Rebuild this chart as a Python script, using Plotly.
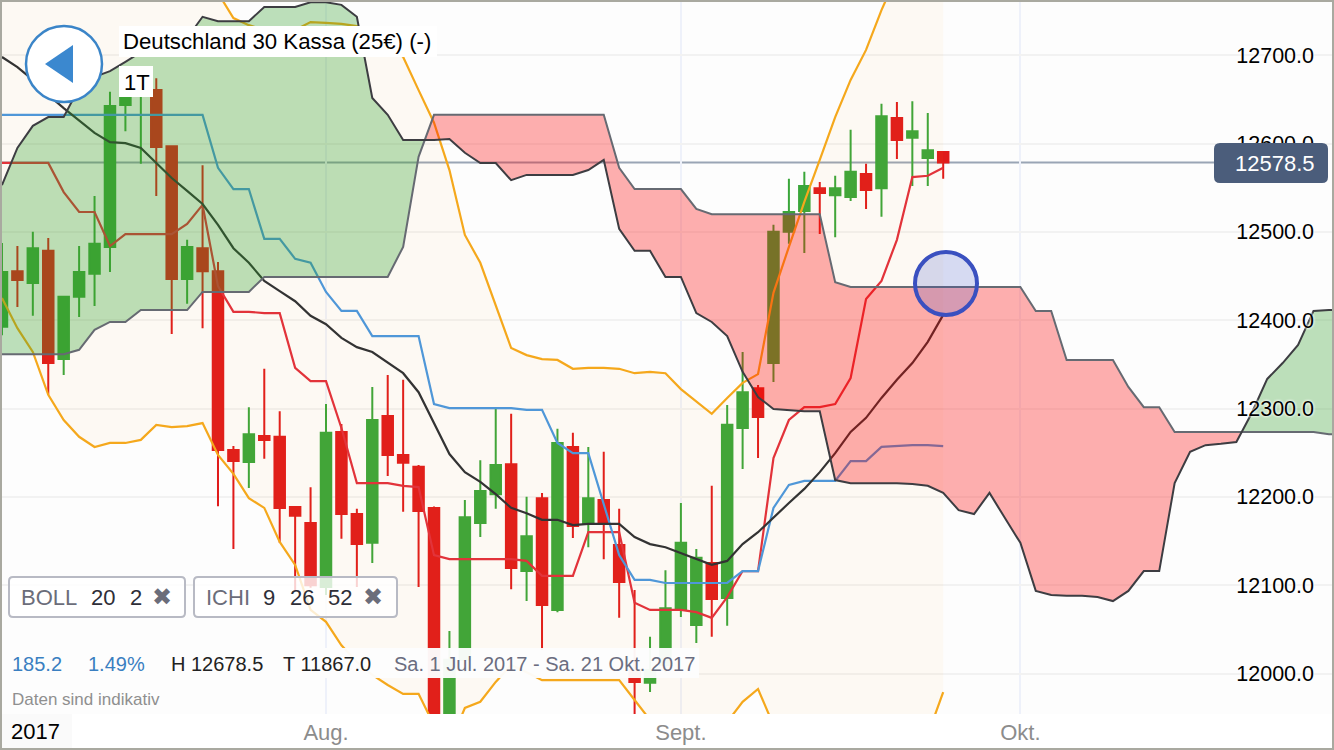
import plotly.graph_objects as go

# trading-day index: 0 = 1 Aug 2017, 23 = 1 Sep 2017, 45 = 2 Oct 2017
first_day = -21
tick_days = [0, 23, 45]
tick_names = ["Aug.", "Sept.", "Okt."]
price_ticks = [12000, 12100, 12200, 12300, 12400, 12500, 12600, 12700]
price_names = ["12000.0", "12100.0", "12200.0", "12300.0", "12400.0", "12500.0", "12600.0", "12700.0"]

opens = [12392.5, 12455.5, 12442, 12478.5, 12356, 12426.5, 12452.5, 12483, 12643.5, 12660.5, 12660.5,
         12597, 12446.5, 12481.5, 12455.5, 12253, 12239.5, 12269, 12268, 12188.5, 12170.5, 12098, 12273.5,
         12180.5, 12148, 12291.5, 12247.5, 12234, 12187.5, 11924.5, 12015.5, 12170.5, 12203, 12237, 12116,
         12198.5, 12072, 12256.5, 12169.5, 12196.5, 12145.5, 12004, 11989.5, 12009.5, 12072, 12055, 12125,
         12085.5, 12278, 12323, 12351.5, 12500, 12523.5, 12549.5, 12541.5, 12539.5, 12565.5, 12549.5,
         12629, 12606.5, 12583.5, 12590.5]
highs = [12487.5, 12484, 12500, 12493, 12427.5, 12484, 12540.5, 12658.5, 12670, 12678.5, 12674,
         12597.5, 12491, 12575.5, 12466, 12257.5, 12301.5, 12345, 12297, 12189, 12211, 12305, 12282.5,
         12186.5, 12324.5, 12338, 12332.5, 12236, 12189, 12048, 12196.5, 12241.5, 12300.5, 12294, 12200,
         12204.5, 12277, 12272.5, 12256.5, 12251, 12186.5, 12094.5, 12041.5, 12117, 12193, 12141, 12212.5,
         12304, 12364, 12326.5, 12508, 12560, 12568, 12556.5, 12563.5, 12615.5, 12577, 12645, 12647, 12648,
         12634.5, 12591.5]
lows = [12383, 12415, 12405, 12315.5, 12338, 12403.5, 12416, 12454.5, 12614, 12577, 12540.5,
        12384.5, 12418.5, 12391, 12189.5, 12141, 12210, 12243, 12148, 12094.5, 12097, 12089, 12152.5,
        12098, 12125, 12223.5, 12183, 12098, 11890, 11900, 12001.5, 12154.5, 12186.5, 12095.5, 12082,
        12026.5, 12069.5, 12153.5, 12143, 12129.5, 12063, 11867, 11979, 12001.5, 12064, 12034.5, 12041.5,
        12054, 12231.5, 12244, 12330, 12486.5, 12476, 12497.5, 12494, 12535, 12526, 12517, 12582.5, 12552,
        12552, 12560]
closes = [12454.5, 12445.5, 12481.5, 12351.5, 12426.5, 12454.5, 12486.5, 12642.5, 12660.5, 12674, 12596,
          12446.5, 12483, 12455.5, 12253, 12240.5, 12271, 12264.5, 12187.5, 12178.5, 12100, 12272.5, 12180.5,
          12146.5, 12287, 12247.5, 12238.5, 12184, 11947.5, 12015.5, 12177, 12206.5, 12236, 12119.5, 12155.5,
          12077.5, 12261, 12167, 12198.5, 12169.5, 12103.5, 11990.5, 12004, 12074, 12148, 12131, 12084.5,
          12281.5, 12318.5, 12290.5, 12500, 12522.5, 12552, 12544, 12549.5, 12568, 12547.5, 12631, 12604,
          12614, 12592.5, 12578.5]

tenkan = [12578, 12578, 12578, 12578, 12545, 12522.5, 12522.5, 12484, 12497.5, 12497.5, 12497.5, 12497.5,
          12509, 12530.5, 12438.5, 12409.5, 12409.5, 12408, 12408, 12346, 12331, 12331, 12278, 12215.5,
          12215.5, 12215.5, 12212.5, 12211, 12134, 12129.5, 12129.5, 12129.5, 12129.5, 12129.5, 12127.5,
          12110.5, 12110.5, 12110.5, 12160, 12160, 12160, 12080, 12072, 12072, 12072, 12069.5, 12063,
          12086.5, 12116, 12116, 12244, 12287, 12301.5, 12301.5, 12305, 12334.5, 12424, 12444.5, 12491,
          12562, 12563.5, 12572.5]
kijun = [12632.5] * 14 + [12572.5, 12548.5, 12548.5, 12492, 12492, 12469.5, 12465, 12432, 12410.5, 12410.5,
         12382, 12382, 12382, 12382, 12305, 12300.5, 12300.5, 12300.5, 12300.5, 12300.5, 12298.5, 12298.5,
         12261, 12249.5, 12249.5, 12193, 12134, 12106, 12106, 12102.5, 12102.5, 12102.5, 12102.5, 12102.5,
         12116, 12116, 12187.5, 12213.5, 12218, 12218, 12218, 12240.5, 12240.5, 12256.5, 12257.5, 12258.5,
         12258.5, 12257.5]
mean_line = [12698, 12686.5, 12672, 12655, 12640, 12625.5, 12612, 12601.5, 12600.5, 12595, 12578, 12561,
             12546.5, 12531.5, 12508, 12481.5, 12465, 12444.5, 12433, 12421.5, 12405, 12395.5, 12380, 12369.5,
             12364, 12352.5, 12340, 12318.5, 12283.5, 12248.5, 12228, 12217, 12203, 12187.5, 12181.5, 12174,
             12174, 12168, 12169.5, 12169.5, 12169.5, 12154.5, 12146.5, 12143, 12136.5, 12129.5, 12123,
             12127.5, 12146.5, 12160, 12177, 12193, 12209, 12228, 12249.5, 12273.5, 12289.5, 12312, 12332.5,
             12351.5, 12375.5, 12406]
boll_upper = [12808, 12808, 12808, 12813.5, 12808, 12808, 12808, 12813.5, 12819, 12830.5, 12836, 12830.5,
              12824.5, 12802, 12770.5, 12742, 12734, 12728.5, 12726.5, 12728.5, 12737.5, 12736.5, 12735.5,
              12733, 12723, 12711.5, 12698, 12660.5, 12623.5, 12570, 12496.5, 12465, 12417, 12368.5, 12360.5,
              12356, 12355, 12345, 12346, 12346, 12345, 12340, 12341.5, 12340, 12322, 12307.5, 12294, 12312,
              12329, 12339, 12431, 12483, 12534, 12581.5, 12630, 12672, 12706, 12751, 12790.5, 12824.5,
              12847.5, 12864.5]
boll_lower = [12425, 12391, 12364, 12315.5, 12287, 12268, 12256.5, 12261, 12261, 12264.5, 12281.5, 12279,
              12280, 12283.5, 12247.5, 12226, 12198.5, 12187.5, 12149, 12123, 12072, 12058.5, 12032, 12013,
              11998.5, 11987, 11977, 11977, 11941.5, 11919, 11961, 11968, 11990.5, 12009.5, 12001.5, 11992.5,
              11992.5, 11992.5, 11992.5, 11992.5, 11992.5, 11970, 11947.5, 11936, 11930.5, 11927, 11930.5,
              11945, 11968, 11982.5, 11941.5, 11896.5, 11868, 11845.5, 11840, 11845.5, 11857, 11868, 11891,
              11919, 11930.5, 11979]
span_a = [12553, 12595, 12620, 12630, 12630, 12663, 12675.5, 12682, 12692.5, 12703.5, 12708, 12712.5, 12719.5,
          12743.5, 12738.5, 12738.5, 12738.5, 12754.5, 12754.5, 12754.5, 12760, 12760, 12757, 12743.5, 12651.5,
          12632.5, 12604, 12604, 12604, 12605, 12589.5, 12578, 12578, 12558.5, 12564.5, 12564.5, 12564.5,
          12564.5, 12570, 12581.5, 12503.5, 12478.5, 12478.5, 12449, 12449, 12408, 12398, 12382, 12341.5,
          12313, 12299.5, 12298.5, 12297, 12297, 12219, 12215.5, 12215.5, 12215.5, 12215.5, 12214.5, 12212.5,
          12204.5, 12185, 12180.5, 12204.5, 12176, 12148, 12093.5, 12089, 12088, 12088, 12086.5, 12082,
          12093.5, 12116, 12116, 12215.5, 12251, 12258.5, 12260, 12262, 12295, 12333.5, 12351.5, 12372,
          12410.5, 12411.5, 12411.5]
span_b = [12361.5] * 5 + [12366.5, 12389, 12398, 12398] + [12411.5] * 4 + [12432] * 4 + [12449] * 9 + [
          12483, 12585] + [12632.5] * 12 + [12572.5, 12548.5, 12548.5, 12548.5, 12548.5, 12526] + [12520] * 8 + [
          12443] + [12437.5] * 12 + [12410.5, 12410.5, 12355, 12355, 12355, 12355, 12324.5, 12301.5, 12301.5] + [
          12273.5] * 10 + [12271, 12271]

candle_days = list(range(first_day, first_day + len(closes)))
cloud_days = list(range(first_day, first_day + len(span_a)))
last_price = closes[-1]

GREEN = "#3aa63a"
RED = "#e01b1b"
W, H, PLOT_H = 1334, 750, 714
px_per_day = 15.43
aug_px = 326
px_per_unit = 0.8833
top_price = 12762.5


def fx(px):
    return px / W


def fy(py):
    return 1 - py / PLOT_H


def cloud_segments():
    """Split the cloud wherever the two spans cross."""
    segs, cur = [], [(cloud_days[0], span_a[0], span_b[0])]
    for k in range(1, len(cloud_days)):
        d0, d1 = cloud_days[k - 1], cloud_days[k]
        a0, a1, b0, b1 = span_a[k - 1], span_a[k], span_b[k - 1], span_b[k]
        if (a0 - b0) * (a1 - b1) < 0:
            t = (b0 - a0) / ((a1 - a0) - (b1 - b0))
            cross = (d0 + t * (d1 - d0), a0 + t * (a1 - a0), a0 + t * (a1 - a0))
            cur.append(cross)
            segs.append(cur)
            cur = [cross]
        cur.append((d1, a1, b1))
    segs.append(cur)
    return segs


fig = go.Figure()

fig.add_trace(go.Candlestick(
    x=candle_days, open=opens, high=highs, low=lows, close=closes,
    increasing=dict(line=dict(color=GREEN, width=2), fillcolor=GREEN),
    decreasing=dict(line=dict(color=RED, width=2), fillcolor=RED),
    whiskerwidth=0, showlegend=False, hoverinfo="skip"))

fig.add_trace(go.Scatter(
    x=candle_days + candle_days[::-1], y=boll_upper + boll_lower[::-1],
    fill="toself", fillcolor="rgba(255,165,30,0.045)", mode="none",
    showlegend=False, hoverinfo="skip"))
for series in (boll_upper, boll_lower):
    fig.add_trace(go.Scatter(x=candle_days, y=series, mode="lines",
                             line=dict(color="#f5a81c", width=2.2), showlegend=False, hoverinfo="skip"))
fig.add_trace(go.Scatter(x=candle_days, y=tenkan, mode="lines",
                         line=dict(color="#e2333a", width=2.2), showlegend=False, hoverinfo="skip"))
fig.add_trace(go.Scatter(x=candle_days, y=kijun, mode="lines",
                         line=dict(color="#4f97d8", width=2.2), showlegend=False, hoverinfo="skip"))
fig.add_trace(go.Scatter(x=candle_days, y=mean_line, mode="lines",
                         line=dict(color="#333333", width=2.2), showlegend=False, hoverinfo="skip"))

for seg in cloud_segments():
    xs = [p[0] for p in seg]
    ya = [p[1] for p in seg]
    yb = [p[2] for p in seg]
    rising = sum(a - b for a, b in zip(ya, yb)) > 0
    fig.add_trace(go.Scatter(
        x=xs + xs[::-1], y=ya + yb[::-1], fill="toself", mode="none",
        fillcolor="rgba(44,158,38,0.31)" if rising else "rgba(255,0,0,0.31)",
        showlegend=False, hoverinfo="skip"))

fig.add_trace(go.Scatter(x=cloud_days, y=span_b, mode="lines",
                         line=dict(color="#666a72", width=2), showlegend=False, hoverinfo="skip"))
fig.add_trace(go.Scatter(x=cloud_days, y=span_a, mode="lines",
                         line=dict(color="#3d3d42", width=2), showlegend=False, hoverinfo="skip"))


def rounded(x0, y0, x1, y1, r):
    a, b, c, d = fx(x0), fy(y0), fx(x1), fy(y1)
    rx, ry = r / W, r / PLOT_H
    return (f"M {a+rx} {b} L {c-rx} {b} Q {c} {b} {c} {b-ry} L {c} {d+ry} Q {c} {d} {c-rx} {d} "
            f"L {a+rx} {d} Q {a} {d} {a} {d+ry} L {a} {b-ry} Q {a} {b} {a+rx} {b} Z")


def paper_shape(kind, x0, y0, x1, y1, fill, line_color=None, line_width=0):
    return dict(type=kind, xref="paper", yref="paper", x0=fx(x0), y0=fy(y0), x1=fx(x1), y1=fy(y1),
                fillcolor=fill, line=dict(color=line_color or "rgba(0,0,0,0)", width=line_width))


def path_shape(path, fill, line_color=None, line_width=0):
    return dict(type="path", xref="paper", yref="paper", path=path, fillcolor=fill,
                line=dict(color=line_color or "rgba(0,0,0,0)", width=line_width))


shapes = [
    dict(type="line", xref="paper", yref="y", x0=0, x1=fx(1220), y0=last_price, y1=last_price,
         line=dict(color="#9aa5b5", width=2), layer="below"),
    paper_shape("rect", 119, 26, 437, 57, "#ffffff"),
    paper_shape("rect", 119, 66, 153, 97, "#ffffff"),
    paper_shape("circle", 26, 26, 102, 102, "#ffffff", "#3b85c8", 2.5),
    path_shape(f"M {fx(45)} {fy(64)} L {fx(73)} {fy(45)} L {fx(73)} {fy(83)} Z", "#3b88cf"),
    paper_shape("circle", 915, 252, 977, 315, "rgba(60,80,200,0.2)", "#3a50c0", 4),
    path_shape(rounded(1214, 143, 1328, 183, 6), "#4b5d7b"),
    path_shape(rounded(9, 577, 185, 617, 4), "rgba(255,255,255,0.8)", "#b8bac4", 2),
    path_shape(rounded(194, 577, 397, 617, 4), "rgba(255,255,255,0.8)", "#b8bac4", 2),
    paper_shape("rect", 0, 648, 699, 678, "rgba(253,253,253,0.96)"),
    paper_shape("rect", 0, 714, 72, 748, "#fafafa"),
    paper_shape("rect", 1, 1, 1333, 749, "rgba(0,0,0,0)", "#a9a9a0", 2),
]

annots = []


def label(px, py, text, size=22, color="#000000", anchor="left", family="Liberation Sans"):
    annots.append(dict(xref="paper", yref="paper", x=fx(px), y=fy(py), text=text, showarrow=False,
                       xanchor=anchor, yanchor="middle", borderpad=0,
                       font=dict(family=family, size=size, color=color)))


DARK = "#2e2e38"
GREY = "#6b6d7a"
BLUE = "#3a7fc1"
label(122, 41, "Deutschland 30 Kassa (25€) (-)", size=22.2)
label(123, 82, "1T")
label(1275, 164, f"{last_price:.1f}", color="#ffffff", anchor="center")
label(20, 597, "BOLL", color=GREY)
label(90, 597, "20", color=DARK)
label(129, 597, "2", color=DARK)
label(162, 597, "✖", size=24, color=GREY, anchor="center", family="DejaVu Sans")
label(205, 597, "ICHI", color=GREY)
label(262, 597, "9", color=DARK)
label(289, 597, "26", color=DARK)
label(327, 597, "52", color=DARK)
label(373, 597, "✖", size=24, color=GREY, anchor="center", family="DejaVu Sans")
label(11, 664, "185.2", size=20, color=BLUE)
label(87, 664, "1.49%", size=20, color=BLUE)
label(170, 664, "H 12678.5", size=20, color="#222222")
label(282, 664, "T 11867.0", size=20, color="#222222")
label(393, 664, "Sa. 1 Jul. 2017 - Sa. 21 Okt. 2017", size=20, color="#6b6d80")
label(11, 699, "Daten sind indikativ", size=17, color="#8f8f8f")
label(10, 732, "2017")

fig.update_layout(
    width=W, height=H, margin=dict(l=0, r=0, t=0, b=H - PLOT_H, pad=0),
    paper_bgcolor="#ffffff", plot_bgcolor="#fdfdfd", showlegend=False, boxgap=0.32, boxgroupgap=0,
    shapes=shapes, annotations=annots,
    font=dict(family="Liberation Sans", size=22),
    xaxis=dict(range=[-aug_px / px_per_day, (W - aug_px) / px_per_day], tickmode="array",
               tickvals=tick_days, ticktext=tick_names, rangeslider=dict(visible=False),
               showgrid=True, gridcolor="#eef1fa", gridwidth=2, zeroline=False, showline=False,
               ticks="", tickfont=dict(size=22, color="#8c8c8c"), ticklabelstandoff=3),
    yaxis=dict(range=[top_price - PLOT_H / px_per_unit, top_price], tickmode="array",
               tickvals=price_ticks, ticktext=price_names, side="right", ticklabelposition="inside",
               ticklabelstandoff=17, showgrid=True, gridcolor="#f2f2f2", gridwidth=2, zeroline=False,
               showline=False, ticks="",
               tickfont=dict(size=21.5, color="#000000", shadow="0 0 3px #ffffff, 0 0 3px #ffffff")),
)

fig.write_html("out.html", config={"displayModeBar": False},
               post_script="document.body.style.margin='0';")
